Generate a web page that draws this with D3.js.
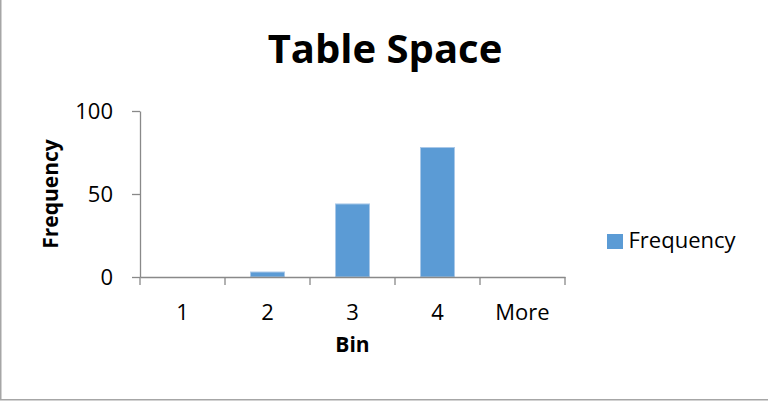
<!DOCTYPE html>
<html>
<head>
<meta charset="utf-8">
<script src="https://cdn.jsdelivr.net/npm/d3@7"></script>
<style>
  html, body { margin: 0; padding: 0; background: #fff; }
  svg { display: block; font-family: "Open Sans", "DejaVu Sans", sans-serif; }
</style>
</head>
<body>
<svg id="chart" width="768" height="402"></svg>
<script>
// Histogram of table space, bins and counts
const bins = ["1", "2", "3", "4", "More"];
const frequency = [0, 3, 44, 78, 0];
const yTicks = [0, 50, 100];
const chartTitle = "Table Space";
const xTitle = "Bin";
const yTitle = "Frequency";
const seriesName = "Frequency";

const svg = d3.select("#chart");
const W = 768, H = 402;
const plot = { left: 140, right: 565, top: 111, bottom: 277 };
const axisColor = "#898989";
const barColor = "#5B9BD5";

// outer frame of the chart area
svg.append("rect")
  .attr("x", 0.75).attr("y", -5)
  .attr("width", W + 10).attr("height", H + 5 - 2.25)
  .attr("fill", "#fff")
  .attr("stroke", "#a6a6a6").attr("stroke-width", 1.5);

const x = d3.scaleBand().domain(bins).range([plot.left, plot.right]).padding(0);
const y = d3.scaleLinear().domain([0, 100]).range([plot.bottom, plot.top]);

// bars: 150% gap width, centered in each category slot
const barW = x.bandwidth() * 0.4;
svg.append("g").selectAll("rect")
  .data(bins.map((b, i) => ({ bin: b, value: frequency[i] })))
  .join("rect")
  .attr("x", d => x(d.bin) + (x.bandwidth() - barW) / 2)
  .attr("y", d => y(d.value))
  .attr("width", barW)
  .attr("height", d => y(0) - y(d.value))
  .attr("fill", barColor)
  .attr("stroke", "#a9c8e8")
  .attr("stroke-width", 1);

// y axis
const yAxis = svg.append("g")
  .attr("transform", `translate(${plot.left},0)`)
  .call(d3.axisLeft(y).tickValues(yTicks).tickSize(8).tickPadding(19).tickSizeOuter(0));
yAxis.select(".domain").attr("stroke", axisColor).attr("stroke-width", 1.3);
yAxis.selectAll(".tick line").attr("stroke", axisColor).attr("stroke-width", 1.3);
yAxis.selectAll(".tick text")
  .attr("font-size", 22).attr("fill", "#000")
  .attr("font-family", "'Open Sans', sans-serif");

// x axis: labels centered in slots, tick marks on slot boundaries
const xAxis = svg.append("g")
  .attr("transform", `translate(0,${plot.bottom})`)
  .call(d3.axisBottom(x).tickSize(0).tickPadding(27.5).tickSizeOuter(0));
xAxis.select(".domain").attr("stroke", axisColor).attr("stroke-width", 1.3);
xAxis.selectAll(".tick text")
  .attr("font-size", 22).attr("fill", "#000")
  .attr("font-family", "'Open Sans', sans-serif");
xAxis.selectAll(".boundary")
  .data(d3.range(bins.length + 1))
  .join("line")
  .attr("class", "boundary")
  .attr("x1", i => plot.left + i * x.step())
  .attr("x2", i => plot.left + i * x.step())
  .attr("y1", 0).attr("y2", 8)
  .attr("stroke", axisColor).attr("stroke-width", 1.3);

// titles
svg.append("text")
  .attr("x", 385).attr("y", 63)
  .attr("text-anchor", "middle")
  .attr("font-size", 40).attr("font-weight", "bold")
  .text(chartTitle);

svg.append("text")
  .attr("x", 352.5).attr("y", 351.5)
  .attr("text-anchor", "middle")
  .attr("font-size", 21).attr("font-weight", "bold")
  .text(xTitle);

svg.append("text")
  .attr("transform", `translate(58.3,${(plot.top + plot.bottom) / 2}) rotate(-90)`)
  .attr("text-anchor", "middle")
  .attr("font-size", 21).attr("font-weight", "bold")
  .text(yTitle);

// legend
const legend = svg.append("g");
legend.append("rect")
  .attr("x", 607).attr("y", 234)
  .attr("width", 16).attr("height", 15)
  .attr("fill", barColor);
legend.append("text")
  .attr("x", 628.5).attr("y", 248.3)
  .attr("font-size", 22)
  .text(seriesName);
</script>
</body>
</html>
